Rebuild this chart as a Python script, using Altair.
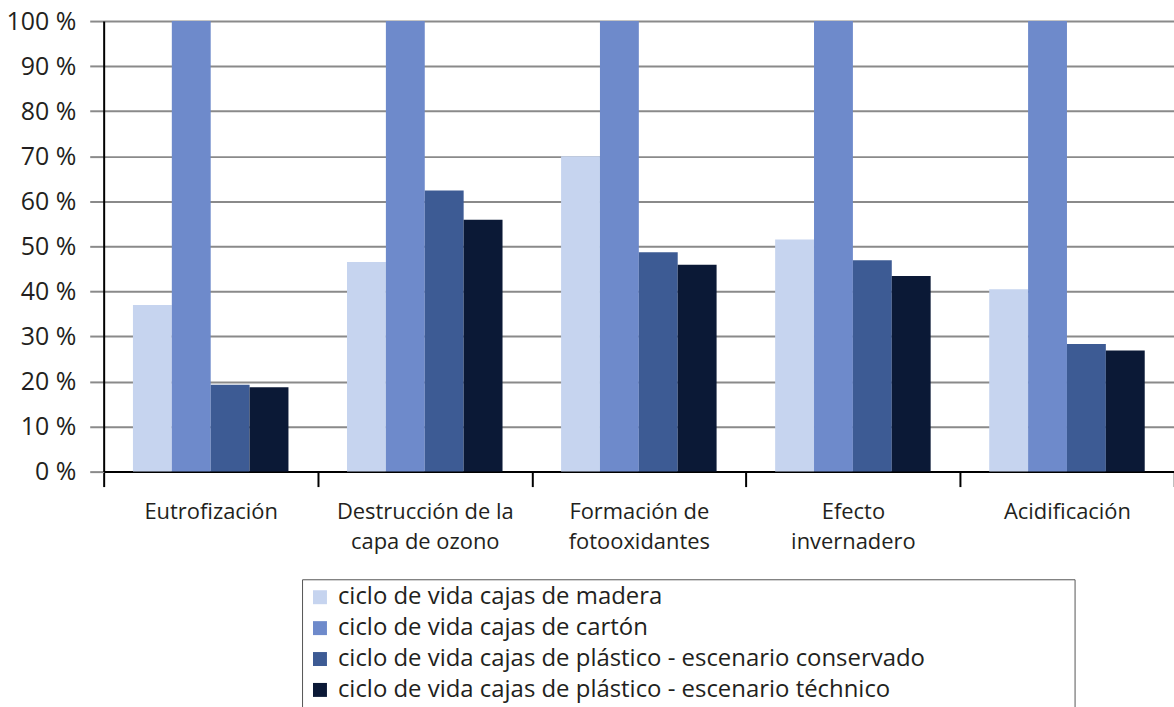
import altair as alt
import pandas as pd

# Impact categories (x axis); "\n" marks a line break in the label
categorias = [
    "Eutrofización",
    "Destrucción de la\ncapa de ozono",
    "Formación de\nfotooxidantes",
    "Efecto\ninvernadero",
    "Acidificación",
]

# Life-cycle scenarios (one bar per scenario in each category)
series = [
    "ciclo de vida cajas de madera",
    "ciclo de vida cajas de cartón",
    "ciclo de vida cajas de plástico - escenario conservado",
    "ciclo de vida cajas de plástico - escenario téchnico",
]

# Relative impact, % of the worst case
madera = [37, 46.5, 70, 51.5, 40.5]
carton = [100, 100, 100, 100, 100]
plastico_conservado = [19.3, 62.4, 48.7, 46.9, 28.3]
plastico_tecnico = [18.7, 55.9, 45.9, 43.4, 26.9]

colores = ["#c6d4ef", "#6e8acb", "#3d5b94", "#0b1936"]

valores = [madera, carton, plastico_conservado, plastico_tecnico]
filas = []
for serie, vals in zip(series, valores):
    for cat, v in zip(categorias, vals):
        filas.append({"categoria": cat, "serie": serie, "valor": v})
df = pd.DataFrame(filas)

FONT = "Open Sans"
TEXT = "#231f20"
GRID = "#8a8a8a"

# trailing no-break spaces (closed by a zero-width space so they are kept)
# widen the legend frame
pad_legend = "\u00a0" * 23 + "\u200b"

chart = (
    alt.Chart(df)
    .mark_bar()
    .encode(
        x=alt.X(
            "categoria:N",
            sort=categorias,
            title=None,
            scale=alt.Scale(paddingInner=0, paddingOuter=0),
            axis=alt.Axis(
                labelAngle=0,
                tickBand="extent",
                tickSize=15,
                tickColor="black",
                tickWidth=2,
                domainColor="black",
                domainWidth=2,
                labelExpr="split(datum.label, '\\n')",
                labelFont=FONT,
                labelFontSize=22,
                labelColor=TEXT,
                labelPadding=15,
                labelLineHeight=30,
                labelLimit=0,
                labelBaseline="top",
            ),
        ),
        xOffset=alt.XOffset(
            "serie:N",
            sort=series,
            scale=alt.Scale(paddingInner=0, paddingOuter=0.753),
        ),
        y=alt.Y(
            "valor:Q",
            title=None,
            scale=alt.Scale(domain=[0, 100], nice=False),
            axis=alt.Axis(
                values=list(range(0, 101, 10)),
                labelExpr="datum.value + ' %'",
                grid=True,
                gridColor=GRID,
                gridWidth=2,
                tickSize=14,
                tickColor=GRID,
                tickWidth=2,
                domainColor="black",
                domainWidth=2,
                labelFont=FONT,
                labelFontSize=25,
                labelColor=TEXT,
                labelPadding=14,
            ),
        ),
        color=alt.Color(
            "serie:N",
            sort=series,
            scale=alt.Scale(domain=series, range=colores),
            legend=alt.Legend(
                title=None,
                orient="none",
                legendX=199,
                legendY=560,
                direction="vertical",
                padding=6,
                strokeColor="#555555",
                symbolType="square",
                symbolSize=196,
                symbolStrokeWidth=0,
                symbolOpacity=1,
                labelFont=FONT,
                labelFontSize=24,
                labelColor=TEXT,
                labelOffset=6,
                labelLimit=0,
                rowPadding=7,
                labelExpr=f"datum.label + '{pad_legend}'",
            ),
        ),
    )
    .properties(
        width=1073.75,
        height=452,
        autosize=alt.AutoSizeParams(type="none"),
        padding={"left": 104, "top": 20, "right": 0, "bottom": 235},
        background="white",
    )
    .configure_view(stroke=None)
)

chart.save("out.html", embed_options={"renderer": "svg", "actions": False})
